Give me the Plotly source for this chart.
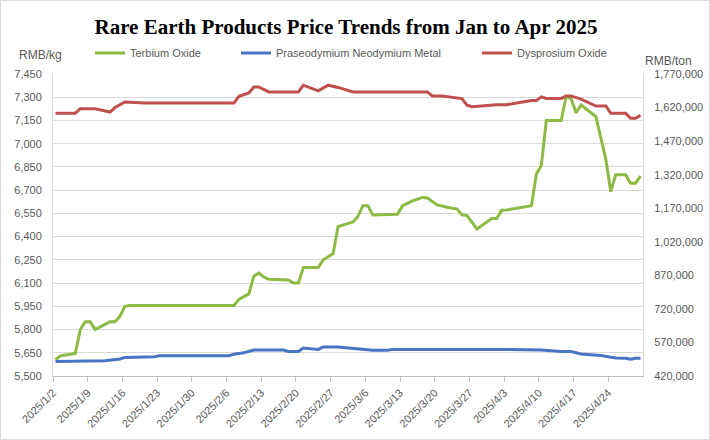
import pandas as pd
import plotly.graph_objects as go

# ---------------- data ----------------
title_text = "Rare Earth Products Price Trends from Jan to Apr 2025"
series_names = ["Terbium Oxide", "Praseodymium Neodymium Metal", "Dysprosium Oxide"]
series_colors = ["#8DB944", "#4775C4", "#C0504D"]
left_unit = "RMB/kg"
right_unit = "RMB/ton"

terbium_dates = [
    "2025-01-02", "2025-01-03", "2025-01-04", "2025-01-06", "2025-01-07", "2025-01-08",
    "2025-01-09", "2025-01-10", "2025-01-13", "2025-01-14", "2025-01-15", "2025-01-16",
    "2025-01-17", "2025-02-07", "2025-02-08", "2025-02-10", "2025-02-11", "2025-02-12",
    "2025-02-13", "2025-02-14", "2025-02-18", "2025-02-19", "2025-02-20", "2025-02-21",
    "2025-02-24", "2025-02-25", "2025-02-26", "2025-02-27", "2025-02-28", "2025-03-03",
    "2025-03-04", "2025-03-05", "2025-03-06", "2025-03-07", "2025-03-12", "2025-03-13",
    "2025-03-15", "2025-03-17", "2025-03-18", "2025-03-20", "2025-03-22", "2025-03-24",
    "2025-03-25", "2025-03-26", "2025-03-28", "2025-03-31", "2025-04-01", "2025-04-02",
    "2025-04-03", "2025-04-08", "2025-04-09", "2025-04-10", "2025-04-11", "2025-04-14",
    "2025-04-15", "2025-04-16", "2025-04-17", "2025-04-18", "2025-04-21", "2025-04-22",
    "2025-04-23", "2025-04-24", "2025-04-25", "2025-04-27", "2025-04-28", "2025-04-29",
    "2025-04-30",
]
terbium_values = [
    5605, 5630, 5635, 5645, 5800, 5850,
    5850, 5800, 5850, 5850, 5885, 5950,
    5955, 5955, 5995, 6030, 6145, 6165,
    6140, 6125, 6120, 6100, 6100, 6200,
    6200, 6250, 6270, 6290, 6465, 6495,
    6530, 6600, 6600, 6540, 6545, 6600,
    6630, 6653, 6650, 6605, 6590, 6578,
    6541, 6536, 6450, 6517, 6517, 6570,
    6572, 6600, 6805, 6860, 7150, 7150,
    7305, 7290, 7200, 7250, 7175, 7040,
    6900, 6690, 6800, 6800, 6745, 6745,
    6790,
]

prnd_dates = [
    "2025-01-02", "2025-01-06", "2025-01-07", "2025-01-12", "2025-01-15", "2025-01-16",
    "2025-01-22", "2025-01-23", "2025-02-06", "2025-02-07", "2025-02-09", "2025-02-11",
    "2025-02-17", "2025-02-18", "2025-02-20", "2025-02-21", "2025-02-24", "2025-02-25",
    "2025-02-28", "2025-03-03", "2025-03-05", "2025-03-07", "2025-03-10", "2025-03-11",
    "2025-04-02", "2025-04-10", "2025-04-14", "2025-04-16", "2025-04-18", "2025-04-22",
    "2025-04-25", "2025-04-27", "2025-04-28", "2025-04-29", "2025-04-30",
]
prnd_values = [
    485000, 485000, 488000, 488000, 496000, 503000,
    506000, 511000, 511000, 517000, 524000, 536000,
    536000, 530000, 530000, 545000, 539000, 550000,
    550000, 545000, 539000, 535000, 535000, 539000,
    539000, 536000, 530000, 529000, 518000, 512000,
    500000, 499000, 495000, 499000, 499000,
]

dy_dates = [
    "2025-01-02", "2025-01-06", "2025-01-07", "2025-01-10", "2025-01-13", "2025-01-14",
    "2025-01-16", "2025-01-20", "2025-02-07", "2025-02-08", "2025-02-10", "2025-02-11",
    "2025-02-12", "2025-02-14", "2025-02-20", "2025-02-21", "2025-02-24", "2025-02-26",
    "2025-02-28", "2025-03-03", "2025-03-18", "2025-03-19", "2025-03-21", "2025-03-25",
    "2025-03-26", "2025-03-27", "2025-04-01", "2025-04-03", "2025-04-08", "2025-04-09",
    "2025-04-10", "2025-04-11", "2025-04-14", "2025-04-15", "2025-04-16", "2025-04-18",
    "2025-04-21", "2025-04-23", "2025-04-24", "2025-04-27", "2025-04-28", "2025-04-29",
    "2025-04-30",
]
dy_values = [
    1595000, 1595000, 1615000, 1615000, 1600000, 1620000,
    1645000, 1640000, 1640000, 1670000, 1685000, 1712000,
    1712000, 1690000, 1690000, 1720000, 1695000, 1720000,
    1710000, 1690000, 1690000, 1672000, 1672000, 1660000,
    1631000, 1624000, 1633000, 1633000, 1651000, 1651000,
    1668000, 1661000, 1661000, 1672000, 1672000, 1658000,
    1627000, 1627000, 1594000, 1594000, 1572000, 1572000,
    1585000,
]

tick_dates = [
    "2025-01-02", "2025-01-09", "2025-01-16", "2025-01-23", "2025-01-30", "2025-02-06",
    "2025-02-13", "2025-02-20", "2025-02-27", "2025-03-06", "2025-03-13", "2025-03-20",
    "2025-03-27", "2025-04-03", "2025-04-10", "2025-04-17", "2025-04-24",
]
tick_labels = [
    "2025/1/2", "2025/1/9", "2025/1/16", "2025/1/23", "2025/1/30", "2025/2/6",
    "2025/2/13", "2025/2/20", "2025/2/27", "2025/3/6", "2025/3/13", "2025/3/20",
    "2025/3/27", "2025/4/3", "2025/4/10", "2025/4/17", "2025/4/24",
]

# ---------------- figure ----------------
W, H = 710, 440
ML, MR, MT, MB = 53, 67, 74, 64
PW, PH = W - ML - MR, H - MT - MB

def px_x(x):
    return (x - ML) / PW

def px_y(y):
    return (H - MB - y) / PH

# each day occupies a slot; points sit in the middle of their day
def centred(dates):
    return pd.to_datetime(dates) + pd.Timedelta(hours=12)

FONT = "Liberation Sans, Arial, sans-serif"
GREY = "#595959"

fig = go.Figure()
fig.add_trace(go.Scatter(x=centred(terbium_dates), y=terbium_values, name=series_names[0],
                         mode="lines", line=dict(color=series_colors[0], width=3),
                         yaxis="y", legend="legend"))
fig.add_trace(go.Scatter(x=centred(prnd_dates), y=prnd_values, name=series_names[1],
                         mode="lines", line=dict(color=series_colors[1], width=3),
                         yaxis="y2", legend="legend2"))
fig.add_trace(go.Scatter(x=centred(dy_dates), y=dy_values, name=series_names[2],
                         mode="lines", line=dict(color=series_colors[2], width=3),
                         yaxis="y2", legend="legend3"))

legend_common = dict(orientation="h", yanchor="middle", xanchor="left",
                     bgcolor="rgba(0,0,0,0)", font=dict(family=FONT, size=11, color=GREY),
                     itemwidth=30)

fig.update_layout(
    width=W, height=H,
    margin=dict(l=ML, r=MR, t=MT, b=MB, autoexpand=False),
    paper_bgcolor="white", plot_bgcolor="white",
    title=dict(text="<b>" + title_text + "</b>", x=px_x(346), xref="paper",
               y=1 - 27 / H, yref="container", yanchor="middle", xanchor="center",
               font=dict(family="Liberation Serif, Times New Roman, serif", size=21, color="black")),
    xaxis=dict(type="date", range=["2025-01-02", "2025-05-01"],
               tickvals=tick_dates, ticktext=tick_labels, tickangle=-45,
               tickfont=dict(family=FONT, size=11, color=GREY),
               ticks="outside", ticklen=5, tickcolor="#bfbfbf",
               showgrid=False, showline=True, linecolor="#bfbfbf", linewidth=1,
               zeroline=False, fixedrange=True),
    yaxis=dict(range=[5500, 7450], tick0=5500, dtick=150, tickformat=",",
               tickfont=dict(family=FONT, size=11, color=GREY),
               showgrid=True, gridcolor="#d9d9d9", gridwidth=1,
               showline=True, linecolor="#d9d9d9", linewidth=1,
               zeroline=False, ticks="", ticklabelstandoff=8),
    yaxis2=dict(range=[420000, 1770000], tick0=420000, dtick=150000, tickformat=",",
                overlaying="y", side="right",
                tickfont=dict(family=FONT, size=11, color=GREY),
                showgrid=False, showline=True, linecolor="#d9d9d9", linewidth=1,
                zeroline=False, ticks="", ticklabelstandoff=8),
    legend=dict(x=px_x(90), y=px_y(53), **legend_common),
    legend2=dict(x=px_x(236), y=px_y(53), **legend_common),
    legend3=dict(x=px_x(477), y=px_y(53), **legend_common),
    annotations=[
        dict(text=left_unit, xref="paper", yref="paper", x=px_x(40), y=px_y(55),
             showarrow=False, xanchor="center", yanchor="middle",
             font=dict(family=FONT, size=12, color=GREY)),
        dict(text=right_unit, xref="paper", yref="paper", x=px_x(668), y=px_y(61),
             showarrow=False, xanchor="center", yanchor="middle",
             font=dict(family=FONT, size=12, color=GREY)),
    ],
    shapes=[
        dict(type="rect", xref="paper", yref="paper",
             x0=px_x(0.5), x1=px_x(W - 0.5), y0=px_y(H - 0.5), y1=px_y(0.5),
             line=dict(color="#d9d9d9", width=1), layer="below"),
    ],
    showlegend=True,
)

fig.write_html("out.html",
               config={"displayModeBar": False},
               post_script="document.body.style.margin='0';document.body.style.overflow='hidden';")
